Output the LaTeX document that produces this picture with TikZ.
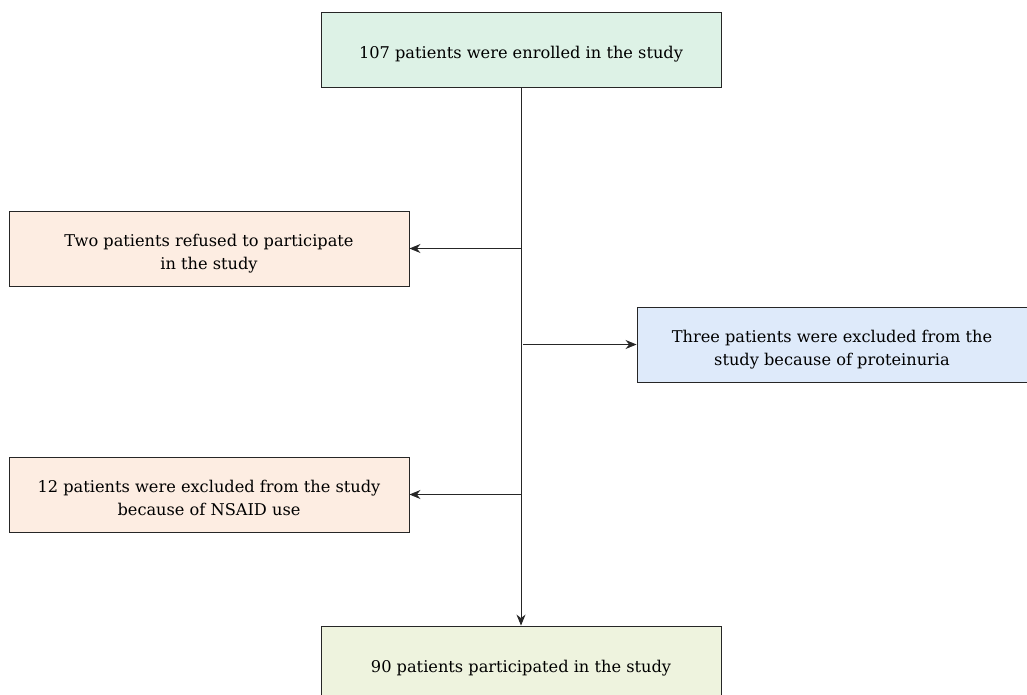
\documentclass[tikz,border=0pt]{standalone}
\usepackage{fontspec}
\setmainfont{DejaVu Serif}
\usetikzlibrary{arrows.meta}
\definecolor{cgreen}{HTML}{DDF2E6}
\definecolor{cpeach}{HTML}{FDEDE2}
\definecolor{cblue}{HTML}{DEEAFA}
\definecolor{colive}{HTML}{EEF3DE}
\newcommand{\lowtext}[1]{\raisebox{0pt}[\dimexpr\height+9pt\relax][\depth]{\begin{tabular}{@{}c@{}}#1\end{tabular}}}
\begin{document}
\begin{tikzpicture}[x=1pt,y=-1pt,
  box/.style={draw=black!85, line width=0.9pt, minimum width=400pt, minimum height=75pt, inner sep=0pt,
    font=\fontsize{16.2}{23}\selectfont},
  conn/.style={draw=black!85, line width=0.9pt, -{Stealth[length=11pt,width=9pt]}}]
\useasboundingbox (0,0) rectangle (1027,694);
\clip (0,0) rectangle (1027,694);
\node[box, fill=cgreen] (top) at (521,49.5) {\lowtext{107 patients were enrolled in the study}};
\node[box, fill=cpeach] (left1) at (209,248.5) {\lowtext{Two patients refused to participate\\in the study}};
\node[box, fill=cblue, minimum width=390pt] (right) at (832,344.5) {\lowtext{Three patients were excluded from the\\study because of proteinuria}};
\node[box, fill=cpeach] (left2) at (209,494.5) {\lowtext{12 patients were excluded from the study\\because of NSAID use}};
\node[box, fill=colive] (bottom) at (521,663.5) {\lowtext{90 patients participated in the study}};
\coordinate (j1) at (521,248.5);
\coordinate (j2) at (523,344.5);
\coordinate (j3) at (521,494.5);
\draw[conn] (top.south) -- (bottom.north);
\draw[conn] (j1) -- (left1.east);
\draw[conn] (j2) -- (right.west);
\draw[conn] (j3) -- (left2.east);
\end{tikzpicture}
\end{document}
